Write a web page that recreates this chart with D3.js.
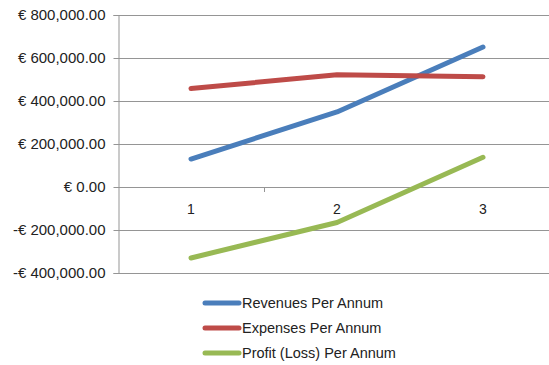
<!DOCTYPE html>
<html><head><meta charset="utf-8">
<script src="https://cdn.jsdelivr.net/npm/d3@7/dist/d3.min.js"></script>
<style>body{margin:0;background:#fff}svg{display:block}</style>
</head><body>
<svg id="c" width="549" height="365"></svg>
<script>
const categories = ["1", "2", "3"];
const seriesNames = ["Revenues Per Annum", "Expenses Per Annum", "Profit (Loss) Per Annum"];
const revenues = [130000, 349000, 651000];
const expenses = [458000, 522000, 513000];
const profit = [-330000, -165000, 138000];
const yTicks = [-400000, -200000, 0, 200000, 400000, 600000, 800000];
const colors = ["#4a7ebb", "#be4b48", "#98b954"];

(function () {
const svg = d3.select("#c");
const pLeft = 118, pRight = 556, pTop = 15, pBottom = 273;
const x = d3.scaleBand().domain(categories).range([pLeft, pRight]);
const y = d3.scaleLinear().domain([-400000, 800000]).range([pBottom, pTop]);

const fmt = v => (v < 0 ? "-€ " : "€ ") + d3.format(",.2f")(Math.abs(v));

// gridlines
svg.append("g").selectAll("line").data(yTicks).join("line")
  .attr("x1", pLeft).attr("x2", pRight)
  .attr("y1", d => Math.round(y(d)) + 0.5).attr("y2", d => Math.round(y(d)) + 0.5)
  .attr("stroke", "#959595").attr("stroke-width", 1);

// y axis
const yAxis = svg.append("g").attr("transform", `translate(${pLeft + 0.5},0)`)
  .call(d3.axisLeft(y).tickValues(yTicks).tickFormat(fmt).tickSize(5).tickPadding(8));
yAxis.select(".domain").attr("stroke", "#959595");
yAxis.selectAll(".tick line").attr("stroke", "#959595");
yAxis.selectAll(".tick").attr("transform", d => `translate(0,${Math.round(y(d)) + 0.5})`);
yAxis.selectAll("text").attr("font-family", "Liberation Sans, Arial, sans-serif")
  .attr("font-size", "15px").attr("fill", "#222");

// x axis at zero
const xAxis = svg.append("g").attr("transform", `translate(0,${Math.round(y(0)) + 0.5})`)
  .call(d3.axisBottom(x).tickSize(0).tickPadding(17));
xAxis.select(".domain").remove();
xAxis.selectAll("text").attr("font-family", "Liberation Sans, Arial, sans-serif")
  .attr("font-size", "14px").attr("fill", "#222");
// category boundary ticks
svg.append("g").selectAll("line").data(categories.slice(1)).join("line")
  .attr("x1", d => Math.round(x(d)) + 0.5).attr("x2", d => Math.round(x(d)) + 0.5)
  .attr("y1", Math.round(y(0))).attr("y2", Math.round(y(0)) + 5)
  .attr("stroke", "#959595");

// lines
const allSeries = [revenues, expenses, profit];
const line = d3.line().x((d, i) => x(categories[i]) + x.bandwidth() / 2).y(d => y(d));
svg.append("g").selectAll("path").data(allSeries).join("path")
  .attr("d", line).attr("fill", "none")
  .attr("stroke", (d, i) => colors[i]).attr("stroke-width", 5)
  .attr("stroke-linecap", "round").attr("stroke-linejoin", "round");

// legend
const lg = svg.append("g").selectAll("g").data(seriesNames).join("g")
  .attr("transform", (d, i) => `translate(0,${303 + i * 25})`);
lg.append("line").attr("x1", 205).attr("x2", 239).attr("y1", 0).attr("y2", 0)
  .attr("stroke", (d, i) => colors[i]).attr("stroke-width", 5).attr("stroke-linecap", "round");
lg.append("text").attr("x", 242).attr("y", 5).text(d => d)
  .attr("font-family", "Liberation Sans, Arial, sans-serif").attr("font-size", "14.5px").attr("fill", "#222");
})();
</script>
</body></html>
